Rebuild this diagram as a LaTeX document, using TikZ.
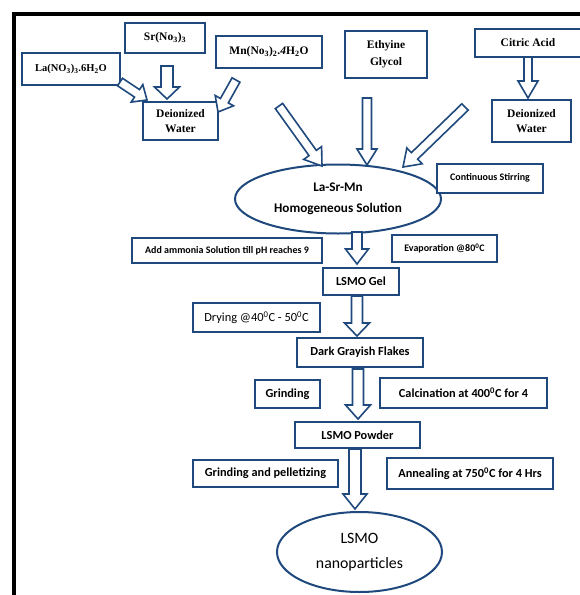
\documentclass[tikz,border=0pt]{standalone}
\usepackage{fontspec}
\setmainfont{Liberation Serif}
\newfontfamily\carl{Carlito}
\usetikzlibrary{shapes.geometric,calc}
\definecolor{bblue}{RGB}{31,73,125}
\tikzset{
  sbox/.style={draw=bblue, line width=2pt, fill=white, inner sep=0pt, align=center,
    font=\bfseries\fontsize{11.5}{15}\selectfont},
  cbox/.style={draw=bblue, line width=2pt, fill=white, inner sep=0pt, align=center,
    font=\carl\bfseries\fontsize{12.3}{14}\selectfont},
  sbox2/.style={cbox, font=\carl\bfseries\fontsize{10}{12}\selectfont},
  ell/.style={ellipse, draw=bblue, line width=2pt, fill=white, inner sep=0pt, align=center},
  wh/.style 2 args={minimum width=#1pt, minimum height=#2pt},
  barr/.style={draw=bblue, line width=1.6pt, fill=white, line join=miter},
}
\newcommand\barrow[5]{%
  \coordinate (bh) at ($(#2)!#5!(#1)$);
  \draw[barr] ($(#1)!#3/2!90:(#2)$) -- ($(bh)!#3/2!90:(#2)$) -- ($(bh)!#4/2!90:(#2)$)
    -- (#2) -- ($(bh)!#4/2!-90:(#2)$) -- ($(bh)!#3/2!-90:(#2)$) -- ($(#1)!#3/2!-90:(#2)$) -- cycle;}
\begin{document}
\begin{tikzpicture}[x=1pt,y=-1pt]
\useasboundingbox (0,0) rectangle (579,595);
\draw[line width=4pt] (590,14) -- (14,14) -- (14,600);
% top boxes
\node[sbox, wh={98}{32}, font=\bfseries\fontsize{10.5}{13}\selectfont] (la) at (71,69) {La(NO\textsubscript{3})\textsubscript{3}.6H\textsubscript{2}O};
\node[sbox, wh={80}{30}] (sr) at (165,38) {Sr(No\textsubscript{3})\textsubscript{3}};
\node[sbox, wh={106}{32}] (mn) at (269,52) {Mn(No\textsubscript{3})\textsubscript{2}.\textit{4}H\textsubscript{2}O};
\node[sbox, wh={75}{38}] (dw1) at (180.5,121) {Deionized\\Water};
\node[sbox, wh={82}{47}] (eg) at (386,54.5) {Ethyine\\[2pt]Glycol};
\node[sbox, wh={106}{28}] (ca) at (528,43) {Citric Acid};
\node[sbox, wh={79}{42}] (dw2) at (531.5,121) {Deionized\\Water};
% arrows top
\coordinate (a1s) at (120,82);  \coordinate (a1e) at (147,100);
\coordinate (a2s) at (167,66);  \coordinate (a2e) at (167,99);
\coordinate (a3s) at (236,80);  \coordinate (a3e) at (218,112);
\coordinate (a4s) at (528,57);  \coordinate (a4e) at (528,98);
\barrow{a1s}{a1e}{9pt}{21pt}{12pt}
\barrow{a2s}{a2e}{12pt}{25pt}{12pt}
\barrow{a3s}{a3e}{9pt}{21pt}{13pt}
\barrow{a4s}{a4e}{8pt}{20pt}{17pt}
% solution
\node[ell, wh={206}{69}, font=\carl\bfseries\fontsize{13.2}{21}\selectfont] (sol) at (338,199) {La-Sr-Mn\\Homogeneous Solution};
\node[sbox2, wh={106}{29}] (cs) at (490,178) {Continuous Stirring};
\coordinate (b1s) at (279,106); \coordinate (b1e) at (322,166);
\coordinate (b2s) at (367,98);  \coordinate (b2e) at (367,165);
\coordinate (b3s) at (465,107); \coordinate (b3e) at (403,167);
\barrow{b1s}{b1e}{9pt}{22pt}{16pt}
\barrow{b2s}{b2e}{9pt}{20pt}{16pt}
\barrow{b3s}{b3e}{9pt}{22pt}{16pt}
% middle
\node[sbox2, wh={190}{25}] (am) at (227,250.5) {Add ammonia Solution till pH reaches 9};
\node[sbox2, wh={105}{27}] (ev) at (444.5,248.5) {Evaporation @80\textsuperscript{0}C};
\node[cbox, wh={76}{27}] (gel) at (361,281) {LSMO Gel};
\node[cbox, wh={127}{29}, font=\carl\fontsize{12.4}{14}\selectfont] (dry) at (256.5,317.5) {Drying @40\textsuperscript{0}C - 50\textsuperscript{0}C};
\node[cbox, wh={126}{29}] (dgf) at (360,352.5) {Dark Grayish Flakes};
\node[cbox, wh={65}{28}] (gr) at (287.5,394) {Grinding};
\node[cbox, wh={167}{30}] (cal) at (463.5,393) {Calcination at 400\textsuperscript{0}C for 4};
\node[cbox, wh={125}{26}] (pow) at (357.5,435) {LSMO Powder};
\node[cbox, wh={145}{27}] (gp) at (265.5,473.5) {Grinding and pelletizing};
\node[cbox, wh={166}{31}] (ann) at (470,473.5) {Annealing at 750\textsuperscript{0}C for 4 Hrs};
\node[ell, wh={165}{80}, font=\carl\fontsize{15.8}{25}\selectfont] (np) at (359.5,552) {LSMO\\nanoparticles};
% vertical arrows
\coordinate (c1s) at (357,232); \coordinate (c1e) at (357,264);
\coordinate (c2s) at (357,296); \coordinate (c2e) at (357,336);
\coordinate (c3s) at (358,369); \coordinate (c3e) at (358,419);
\coordinate (c4s) at (355,449); \coordinate (c4e) at (355,509);
\barrow{c1s}{c1e}{10pt}{23pt}{15pt}
\barrow{c2s}{c2e}{11pt}{25pt}{13pt}
\barrow{c3s}{c3e}{11pt}{25pt}{14pt}
\barrow{c4s}{c4e}{12pt}{24pt}{15pt}
\end{tikzpicture}
\end{document}
